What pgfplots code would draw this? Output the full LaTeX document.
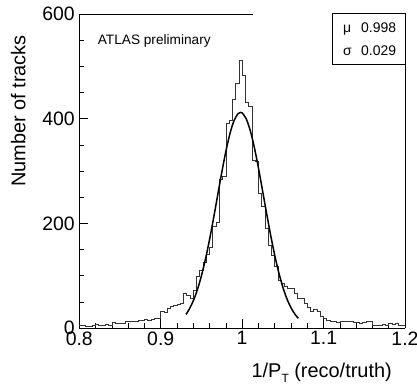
\documentclass[border=0pt]{standalone}
\usepackage{fontspec}
\setmainfont{Liberation Sans}
\usepackage{pgfplots}
\pgfplotsset{compat=1.18}
\pgfplotstableread{
x y
0.800 6
0.804 5
0.808 3
0.812 4
0.816 5
0.820 7
0.824 6
0.828 6
0.832 7
0.836 6
0.840 11
0.844 9
0.848 8
0.852 8
0.856 12
0.860 12
0.864 13
0.868 13
0.872 14
0.876 15
0.880 16
0.884 14
0.888 17
0.892 18
0.896 18
0.900 31
0.904 30
0.908 37
0.912 42
0.916 43
0.920 46
0.924 47
0.928 67
0.932 62
0.936 57
0.940 72
0.944 98
0.948 110
0.952 125
0.956 140
0.960 155
0.964 194
0.968 201
0.972 285
0.976 290
0.980 392
0.984 397
0.988 436
0.992 468
0.996 511
1.000 483
1.004 432
1.008 423
1.012 320
1.016 318
1.020 258
1.024 232
1.028 190
1.032 158
1.036 139
1.040 118
1.044 92
1.048 85
1.052 80
1.056 76
1.060 76
1.064 66
1.068 57
1.072 56
1.076 47
1.080 40
1.084 31
1.088 36
1.092 31
1.096 23
1.100 18
1.104 15
1.108 13
1.112 13
1.116 10
1.120 13
1.124 12
1.128 13
1.132 12
1.136 10
1.140 10
1.144 9
1.148 10
1.152 13
1.156 12
1.160 5
1.164 5
1.168 6
1.172 7
1.176 6
1.180 8
1.184 7
1.188 8
1.192 6
1.196 5
1.200 5
}\histo
\pgfplotstableread{
x y
0.931 26.0
0.935 35.8
0.940 52.0
0.945 73.1
0.950 99.8
0.955 132.0
0.960 169.4
0.965 210.7
0.970 254.3
0.975 297.5
0.980 337.5
0.985 371.3
0.990 396.1
0.995 409.7
0.998 412.0
1.000 411.0
1.005 399.8
1.010 377.0
1.015 344.9
1.020 305.9
1.025 263.0
1.030 219.3
1.035 177.4
1.040 139.1
1.045 105.8
1.050 78.0
1.055 55.8
1.060 38.7
1.065 26.0
1.069 18.5
}\fit
\begin{document}
\begin{tikzpicture}
\begin{axis}[
  at={(0,0)}, anchor=south west,
  scale only axis, width=325.7bp, height=314bp,
  xmin=0.8, xmax=1.2, ymin=0, ymax=600,
  axis x line*=bottom, axis y line*=left,
  xtick={0.8,0.9,1,1.1,1.2},
  xticklabels={0.8,0.9,1,1.1,1.2},
  minor x tick num=4,
  ytick={0,200,400,600},
  yticklabels={0,200,400,600},
  minor y tick num=3,
  tick align=inside,
  major tick length=9bp, minor tick length=5bp,
  tick style={black, line width=0.6bp},
  axis line style={black, line width=0.8bp},
  /pgf/number format/assume math mode=true,
  tick label style={font=\fontsize{19.5}{20}\selectfont},
  yticklabel style={xshift=-1bp},
  clip=false,
]
\addplot[const plot, draw=black!80, line width=0.7bp, mark=none] table[x=x,y=y] {\histo};
\addplot[smooth, draw=black, line width=1.5bp, mark=none] table[x=x,y=y] {\fit};
\draw[black, line width=0.8bp] (rel axis cs:1,0) -- (rel axis cs:1,1);
\draw[black, line width=0.8bp] (rel axis cs:0,1) -- (rel axis cs:0.533,1);
\draw[black, line width=0.7bp, fill=white] (rel axis cs:0.776,0.841) rectangle (rel axis cs:1,1.003);
\node[anchor=base west, font=\fontsize{14}{14}\selectfont, inner sep=0pt] at ([xshift=-62bp,yshift=-18.7bp]rel axis cs:1,1) {μ};
\node[anchor=base west, font=\fontsize{14}{14}\selectfont, inner sep=0pt] at ([xshift=-44bp,yshift=-18.7bp]rel axis cs:1,1) {0.998};
\node[anchor=base west, font=\fontsize{14}{14}\selectfont, inner sep=0pt] at ([xshift=-62bp,yshift=-41bp]rel axis cs:1,1) {σ};
\node[anchor=base west, font=\fontsize{14}{14}\selectfont, inner sep=0pt] at ([xshift=-44bp,yshift=-41bp]rel axis cs:1,1) {0.029};
\node[anchor=base west, font=\fontsize{13.7}{14}\selectfont, inner sep=0pt] at ([xshift=18.4bp,yshift=-30bp]rel axis cs:0,1) {ATLAS preliminary};
\node[anchor=base east, font=\fontsize{20}{20}\selectfont, inner sep=0pt] at ([xshift=-13bp,yshift=-49bp]rel axis cs:1,0) {1/P\raisebox{-5bp}{\fontsize{12}{12}\selectfont T} (reco/truth)};
\node[rotate=90, anchor=base east, font=\fontsize{20}{20}\selectfont, inner sep=0pt] at ([xshift=-54bp]rel axis cs:0,0.933) {Number of tracks};
\end{axis}
\pgfresetboundingbox
\path (-79.3bp,-57bp) rectangle (337.7bp,328bp);
\end{tikzpicture}
\end{document}
